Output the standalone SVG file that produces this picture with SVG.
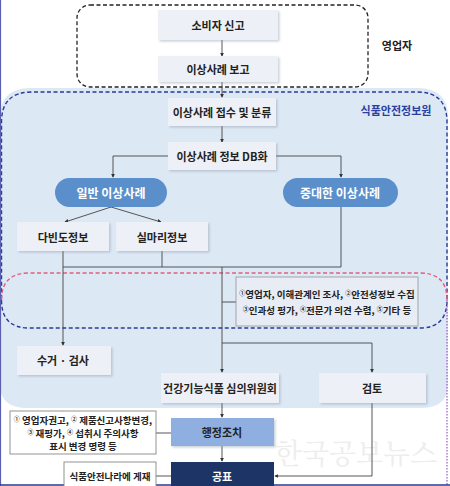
<svg xmlns="http://www.w3.org/2000/svg" width="450" height="486" viewBox="0 0 450 486">
<defs>
<style>
text{font-family:"Noto Sans CJK KR","Noto Sans",sans-serif;font-weight:bold;font-size:11px;fill:#222;text-anchor:middle;dominant-baseline:central}
.box{fill:#edf0f6;filter:url(#sh)}
.ln{fill:none;stroke:#444;stroke-width:0.9}
.sup{font-size:6px}
.pill{fill:#5b8fcb}
.w{fill:#fff;font-size:12px}
.sm{font-size:9.5px}
</style>
<filter id="sh" x="-10%" y="-20%" width="130%" height="150%">
<feDropShadow dx="1.5" dy="1.5" stdDeviation="1" flood-color="#8a96a8" flood-opacity="0.45"/>
</filter>
<marker id="ah" viewBox="0 0 6 6" refX="5" refY="3" markerWidth="4.5" markerHeight="4.5" orient="auto">
<path d="M0,0 L6,3 L0,6 z" fill="#333"/>
</marker>
</defs>
<rect width="450" height="486" fill="#fff"/>
<!-- light blue region -->
<path d="M0,118 Q0,88 30,88 L418,88 Q448,88 448,118 L448,385 Q448,408 420,408 L28,408 Q0,408 0,385 Z" fill="#dde8f5"/>
<!-- region outlines -->
<rect x="77" y="5" width="291" height="82" rx="13" fill="none" stroke="#222" stroke-width="1.3" stroke-dasharray="4,2.5"/>
<path d="M1.5,300 Q1.5,328 29,328 L420,328 Q447,328 447,300 L447,122 Q447,92 417,92 L32,92 Q1.5,92 1.5,122 Z" fill="none" stroke="#2b3a97" stroke-width="1.4" stroke-dasharray="4,2.5"/>
<path d="M1.5,300 Q1.5,273 29,273 L420,273 Q447,273 447,300" fill="none" stroke="#e0607e" stroke-width="1.4" stroke-dasharray="4,2.5"/>
<line x1="447" y1="300" x2="447" y2="486" stroke="#9a56c4" stroke-width="1.2" stroke-dasharray="1.5,1.5"/>
<line x1="0.5" y1="0" x2="0.5" y2="486" stroke="#5a5fb0" stroke-width="1.2"/>
<line x1="0" y1="485" x2="450" y2="485" stroke="#2a3a8a" stroke-width="1.5"/>
<text x="397" y="45">영업자</text>
<text x="396" y="110" style="fill:#2a3fa0">식품안전정보원</text>
<!-- watermark -->
<text x="356" y="452" style="font-family:'Noto Serif CJK KR','Liberation Serif',serif;font-weight:normal;font-size:28px;fill:#ededed">한국공보뉴스</text>
<!-- connectors -->
<g id="connectors">
<line class="ln" x1="222" y1="40" x2="222" y2="56" marker-end="url(#ah)"/>
<line class="ln" x1="222" y1="82" x2="222" y2="97" marker-end="url(#ah)"/>
<line class="ln" x1="222" y1="126" x2="222" y2="142" marker-end="url(#ah)"/>
<path class="ln" d="M168,156 L113,156 L113,177" marker-end="url(#ah)"/>
<path class="ln" d="M276,156 L341,156 L341,177" marker-end="url(#ah)"/>
<line class="ln" x1="111" y1="207" x2="65" y2="222" marker-end="url(#ah)"/>
<line class="ln" x1="111" y1="207" x2="161" y2="222" marker-end="url(#ah)"/>
<path class="ln" d="M341,207 L341,267 L63,267"/>
<line class="ln" x1="63" y1="251" x2="63" y2="345" marker-end="url(#ah)"/>
<line class="ln" x1="162" y1="251" x2="162" y2="267"/>
<line class="ln" x1="222" y1="267" x2="222" y2="372" marker-end="url(#ah)"/>
<line class="ln" x1="222" y1="302" x2="236" y2="302"/>
<path class="ln" d="M222,343 L372,343 L372,372" marker-end="url(#ah)"/>
<line class="ln" x1="222" y1="403" x2="222" y2="417" marker-end="url(#ah)"/>
<line class="ln" x1="156" y1="433" x2="171" y2="433"/>
<line class="ln" x1="222" y1="446" x2="222" y2="461" marker-end="url(#ah)"/>
<line class="ln" x1="156" y1="476" x2="171" y2="476"/>
<path class="ln" d="M372,403 L372,476 L275,476" marker-end="url(#ah)"/>
</g>
<g id="n-consumer"><rect class="box" x="158" y="10" width="120" height="30"/><text x="218" y="25">소비자 신고</text></g>
<g id="n-report"><rect class="box" x="158" y="56" width="120" height="26"/><text x="218" y="69">이상사례 보고</text></g>
<g id="n-receive"><rect class="box" x="168" y="98" width="108" height="28"/><text x="222" y="112">이상사례 접수 및 분류</text></g>
<g id="n-db"><rect class="box" x="168" y="142" width="108" height="28"/><text x="222" y="156">이상사례 정보 DB화</text></g>
<g id="n-general"><rect class="pill" x="55" y="178" width="112" height="29" rx="14.5"/><text class="w" x="111" y="192.5">일반 이상사례</text></g>
<g id="n-serious"><rect class="pill" x="283" y="178" width="115" height="29" rx="14.5"/><text class="w" x="340" y="192.5">중대한 이상사례</text></g>
<g id="n-freq"><rect class="box" x="17" y="222" width="92" height="29"/><text x="63" y="237">다빈도정보</text></g>
<g id="n-clue"><rect class="box" x="116" y="222" width="92" height="29"/><text x="162" y="237">실마리정보</text></g>
<g id="n-info"><rect x="236" y="277" width="182" height="49" fill="#e8edf5" stroke="#9a9ea6" stroke-width="0.9"/>
<text class="sm" x="327" y="294"><tspan class="sup" dy="-2.5">①</tspan><tspan dy="2.5">영업자, 이해관계인 조사, </tspan><tspan class="sup" dy="-2.5">②</tspan><tspan dy="2.5">안전성정보 수집</tspan></text>
<text class="sm" x="327" y="310"><tspan class="sup" dy="-2.5">③</tspan><tspan dy="2.5">인과성 평가, </tspan><tspan class="sup" dy="-2.5">④</tspan><tspan dy="2.5">전문가 의견 수렴, </tspan><tspan class="sup" dy="-2.5">⑤</tspan><tspan dy="2.5">기타 등</tspan></text></g>
<g id="n-recall"><rect class="box" x="17" y="346" width="94" height="29"/><text x="63" y="360">수거 · 검사</text></g>
<g id="n-committee"><rect class="box" x="161" y="373" width="118" height="30"/><text x="220" y="388">건강기능식품 심의위원회</text></g>
<g id="n-review"><rect class="box" x="319" y="373" width="107" height="30"/><text x="372" y="388">검토</text></g>
<g id="n-admin-note"><rect x="10" y="411" width="146" height="43" fill="#fff" stroke="#888" stroke-width="0.9"/>
<text class="sm" x="83" y="420"><tspan class="sup" dy="-2">①</tspan><tspan dy="2"> 영업자권고, </tspan><tspan class="sup" dy="-2">②</tspan><tspan dy="2"> 제품신고사항변경,</tspan></text>
<text class="sm" x="83" y="433"><tspan class="sup" dy="-2">③</tspan><tspan dy="2"> 재평가, </tspan><tspan class="sup" dy="-2">④</tspan><tspan dy="2"> 섭취시 주의사항</tspan></text>
<text class="sm" x="83" y="446">표시 변경 명령 등</text></g>
<g id="n-admin"><rect x="171" y="418" width="103" height="28" fill="#8eafdf" filter="url(#sh)"/><text x="222" y="432">행정조치</text></g>
<g id="n-site"><rect x="64" y="462" width="92" height="26" fill="#fff" stroke="#888" stroke-width="0.9"/><text class="sm" x="110" y="476">식품안전나라에 게재</text></g>
<g id="n-publish"><rect x="171" y="462" width="103" height="26" fill="#1d3566"/><text x="222" y="476" style="fill:#fff">공표</text></g>
</svg>
